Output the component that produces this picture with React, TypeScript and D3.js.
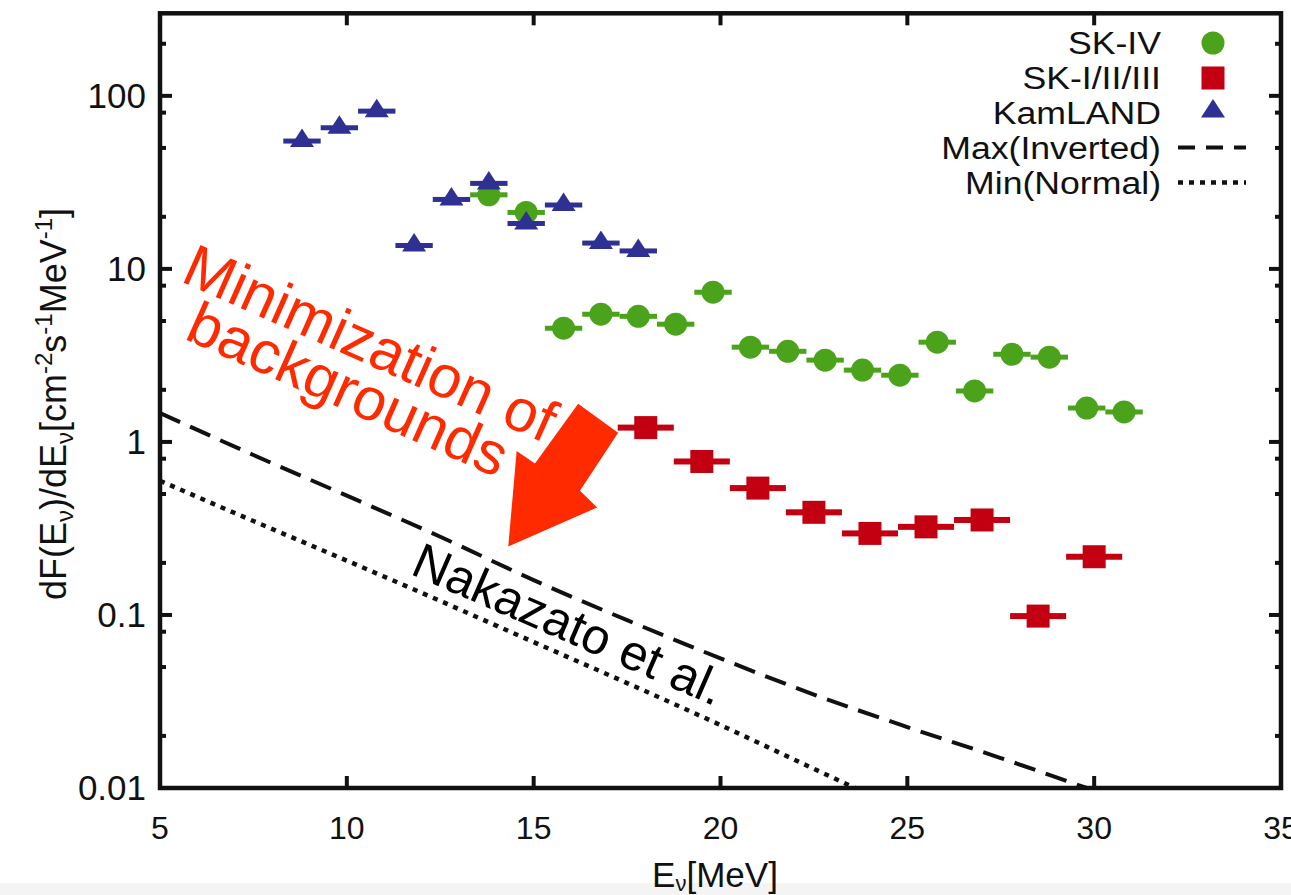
import React from "react";
import * as d3 from "d3";

// ---------- data ----------
const skIVEnergy = [13.8, 14.8, 15.8, 16.8, 17.8, 18.8, 19.8, 20.8, 21.8, 22.8, 23.8, 24.8, 25.8, 26.8, 27.8, 28.8, 29.8, 30.8];
const skIVFlux = [26.8, 21.2, 4.54, 5.47, 5.32, 4.79, 7.33, 3.53, 3.34, 2.97, 2.6, 2.43, 3.77, 1.97, 3.21, 3.09, 1.57, 1.49];
const skIVHalfBin = 0.5;

const skOldEnergy = [18.0, 19.5, 21.0, 22.5, 24.0, 25.5, 27.0, 28.5, 30.0];
const skOldFlux = [1.21, 0.771, 0.541, 0.392, 0.296, 0.323, 0.354, 0.0985, 0.217];
const skOldHalfBin = 0.75;

const kamEnergy = [8.8, 9.8, 10.8, 11.8, 12.8, 13.8, 14.8, 15.8, 16.8, 17.8];
const kamFlux = [54.8, 65.4, 81.6, 13.65, 25.2, 31.2, 18.3, 23.4, 14.1, 12.7];
const kamHalfBin = 0.5;

const maxInvE = [5, 7.5, 10, 12.5, 15, 17.5, 20, 22.5, 25, 27.5, 29.8];
const maxInvF = [1.47, 0.84, 0.489, 0.283, 0.159, 0.0933, 0.0561, 0.0347, 0.0225, 0.0149, 0.01];

const minNormE = [5, 7.5, 10, 12.5, 15, 17.5, 20, 22.5, 23.6];
const minNormF = [0.596, 0.349, 0.206, 0.1205, 0.0697, 0.0404, 0.0231, 0.0129, 0.01];

const xTicks = [5, 10, 15, 20, 25, 30, 35];
const yMajorTicks = [0.01, 0.1, 1, 10, 100];
const yMajorLabels = ["0.01", "0.1", "1", "10", "100"];
const yMinorTicks = [0.02, 0.05, 0.08, 0.2, 0.5, 0.8, 2, 5, 8, 20, 50, 80, 200];

const legendLabels = ["SK-IV", "SK-I/II/III", "KamLAND", "Max(Inverted)", "Min(Normal)"];

// annotation arrow outline (data coordinates)
const arrowE = [16.19, 17.26, 16.24, 16.7, 14.32, 14.545, 15.035];
const arrowF = [1.66, 1.131, 0.522, 0.418, 0.249, 0.887, 0.75];

// ---------- styles ----------
const GREEN = "#4ba31b";
const RED = "#c20012";
const BLUE = "#2e3192";
const ORANGE = "#ff2a00";
const INK = "#111111";
const FONT = "'Liberation Sans', Arial, Helvetica, sans-serif";

const W = 1291;
const H = 895;
const L = 160, R = 1281, T = 13.3, B = 788;

export default function App() {
  const x = d3.scaleLinear().domain([5, 35]).range([L, R]);
  const y = d3.scaleLog().domain([0.01, 300]).range([B, T]);

  const line = d3
    .line<[number, number]>()
    .x((d) => x(d[0]))
    .y((d) => y(d[1]))
    .curve(d3.curveMonotoneX);

  const maxPath = line(maxInvE.map((e, i) => [e, maxInvF[i]] as [number, number])) || "";
  const minPath = line(minNormE.map((e, i) => [e, minNormF[i]] as [number, number])) || "";

  const arrowPts = arrowE.map((e, i) => `${x(e)},${y(arrowF[i])}`).join(" ");

  const tri = (cx: number, cy: number, s = 1) =>
    `M${cx},${cy - 12.5 * s}L${cx + 12 * s},${cy + 6 * s}L${cx - 12 * s},${cy + 6 * s}Z`;

  const legendX = 1161;
  const legendSym = 1213;
  const legendRows = [43, 78, 112.5, 147.5, 182.5];

  return (
    <svg
      width={W}
      height={H}
      style={{ position: "absolute", left: 0, top: 0, background: "#ffffff" }}
      fontFamily={FONT}
    >
      <defs>
        <clipPath id="plotClip">
          <rect x={L} y={T} width={R - L} height={B - T} />
        </clipPath>
      </defs>
      <rect x={0} y={0} width={W} height={H} fill="#ffffff" />
      <rect x={0} y={883} width={W} height={H - 883} fill="#f4f4f4" />

      {/* theory lines */}
      <g clipPath="url(#plotClip)" fill="none" stroke={INK}>
        <path d={maxPath} strokeWidth={4} strokeDasharray="22 11" />
        <path d={minPath} strokeWidth={4.5} strokeDasharray="5 6" />
      </g>

      {/* SK-I/II/III */}
      <g fill={RED}>
        {skOldEnergy.map((e, i) => (
          <g key={"r" + i}>
            <rect x={x(e - skOldHalfBin)} y={y(skOldFlux[i]) - 3} width={x(e + skOldHalfBin) - x(e - skOldHalfBin)} height={6} />
            <rect x={x(e) - 11.5} y={y(skOldFlux[i]) - 11.5} width={23} height={23} />
          </g>
        ))}
      </g>

      {/* SK-IV */}
      <g fill={GREEN}>
        {skIVEnergy.map((e, i) => (
          <g key={"g" + i}>
            <rect x={x(e - skIVHalfBin)} y={y(skIVFlux[i]) - 2.5} width={x(e + skIVHalfBin) - x(e - skIVHalfBin)} height={5} />
            <circle cx={x(e)} cy={y(skIVFlux[i])} r={11.5} />
          </g>
        ))}
      </g>

      {/* KamLAND */}
      <g fill={BLUE}>
        {kamEnergy.map((e, i) => (
          <g key={"b" + i}>
            <rect x={x(e - kamHalfBin)} y={y(kamFlux[i]) - 2.5} width={x(e + kamHalfBin) - x(e - kamHalfBin)} height={5} />
            <path d={tri(x(e), y(kamFlux[i]))} />
          </g>
        ))}
      </g>

      {/* frame */}
      <rect x={L} y={T} width={R - L} height={B - T} fill="none" stroke={INK} strokeWidth={4.5} />

      {/* ticks */}
      <g stroke={INK} strokeWidth={4}>
        {xTicks.map((t) => (
          <g key={"xt" + t}>
            <line x1={x(t)} x2={x(t)} y1={B} y2={B - 12} />
            <line x1={x(t)} x2={x(t)} y1={T} y2={T + 12} />
          </g>
        ))}
        {yMajorTicks.map((t) => (
          <g key={"yt" + t}>
            <line x1={L} x2={L + 12} y1={y(t)} y2={y(t)} />
            <line x1={R} x2={R - 12} y1={y(t)} y2={y(t)} />
          </g>
        ))}
        {yMinorTicks.map((t) => (
          <g key={"ym" + t}>
            <line x1={L} x2={L + 6} y1={y(t)} y2={y(t)} />
            <line x1={R} x2={R - 6} y1={y(t)} y2={y(t)} />
          </g>
        ))}
      </g>

      {/* tick labels */}
      <g fill={INK}>
        {xTicks.map((t) => (
          <text key={"xl" + t} x={x(t)} y={839} fontSize={32} textAnchor="middle">
            {t}
          </text>
        ))}
        {yMajorTicks.map((t, i) => (
          <text key={"yl" + t} x={146} y={y(t) + 12} fontSize={35} textAnchor="end">
            {yMajorLabels[i]}
          </text>
        ))}
      </g>

      {/* axis titles */}
      <text x={715} y={887} fontSize={35} textAnchor="middle" fill={INK}>
        E<tspan fontSize={22} dy={4}>ν</tspan>
        <tspan dy={-4}>[MeV]</tspan>
      </text>
      <text transform="translate(66,404) rotate(-90)" fontSize={36} textAnchor="middle" fill={INK}>
        dF(E<tspan fontSize={24} dy={7}>ν</tspan>
        <tspan dy={-7}>)/dE</tspan>
        <tspan fontSize={24} dy={7}>ν</tspan>
        <tspan dy={-7}>[cm</tspan>
        <tspan fontSize={24} dy={-14}>-2</tspan>
        <tspan dy={14}>s</tspan>
        <tspan fontSize={24} dy={-14}>-1</tspan>
        <tspan dy={14}>MeV</tspan>
        <tspan fontSize={24} dy={-14}>-1</tspan>
        <tspan dy={14}>]</tspan>
      </text>

      {/* legend */}
      <g fontSize={31} fill={INK}>
        {legendLabels.map((lab, i) => (
          <text
            key={lab}
            transform={`translate(${legendX},${legendRows[i] + 11}) scale(1.15,1.04)`}
            textAnchor="end"
          >
            {lab}
          </text>
        ))}
      </g>
      <circle cx={legendSym} cy={legendRows[0]} r={11.5} fill={GREEN} />
      <rect x={legendSym - 11.5} y={legendRows[1] - 11.5} width={23} height={23} fill={RED} />
      <path d={tri(legendSym, legendRows[2] - 1)} fill={BLUE} />
      <line x1={1178} x2={1246} y1={legendRows[3]} y2={legendRows[3]} stroke={INK} strokeWidth={4} strokeDasharray="17 11" />
      <line x1={1178} x2={1246} y1={legendRows[4]} y2={legendRows[4]} stroke={INK} strokeWidth={4.5} strokeDasharray="5 6" />

      {/* annotations */}
      <polygon points={arrowPts} fill={ORANGE} />
      <g fill={ORANGE} fontSize={60} textAnchor="middle">
        <text transform="translate(362,362) rotate(24)">Minimization of</text>
        <text transform="translate(340,408) rotate(24)">backgrounds</text>
      </g>
      <text transform="translate(562,640) rotate(23.5)" fontSize={50} textAnchor="middle" fill="#000">
        Nakazato et al.
      </text>
    </svg>
  );
}
